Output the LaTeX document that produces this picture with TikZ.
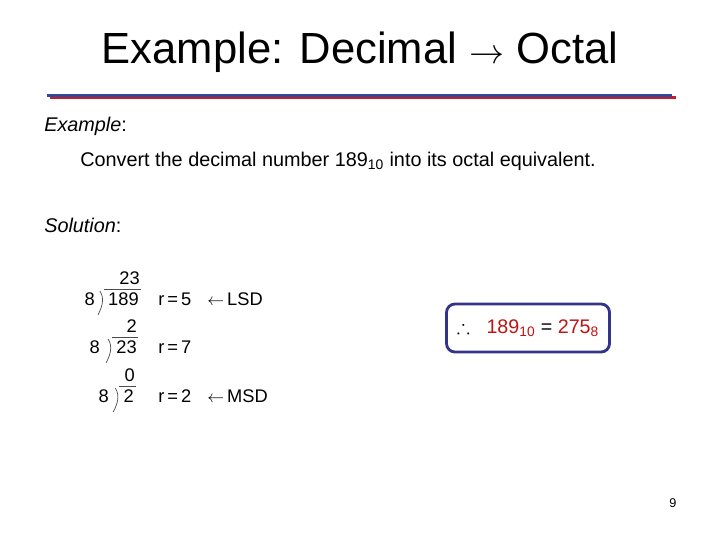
\documentclass[tikz,border=0pt]{standalone}
\usepackage{amsmath,amssymb}
\usepackage{fontspec}
\setmainfont{Liberation Sans}
\usetikzlibrary{positioning}
\definecolor{boxnavy}{RGB}{51,51,140}
\definecolor{ansred}{RGB}{190,20,20}
\definecolor{barblue}{RGB}{45,75,150}
\definecolor{barred}{RGB}{205,25,45}

\tikzset{
  txt/.style={inner sep=0pt, anchor=base west, font=\fontsize{14.1}{16}\selectfont},
  dig/.style={inner sep=0pt, anchor=base west, font=\fontsize{13}{15}\selectfont},
  divline/.style={line width=0.5pt, black!70},
}

\begin{document}
\begin{tikzpicture}[x=0.025cm, y=-0.025cm]
\useasboundingbox (0,0) rectangle (720,540);
% title and bar
\node[inner sep=0pt, anchor=base, font=\fontsize{31}{35}\selectfont] (title) at (360,63) {Example: Decimal $\rightarrow$ Octal};
\draw[barred, line width=2.2pt] (50,97.5) -- (676,97.5);
\draw[barblue, line width=2.2pt] (47,95.5) -- (672,95.5);
% text
\node[txt] (ex) at (44,131) {\textit{Example}:};
\node[txt] (task) at (80,166) {Convert the decimal number 189\textsubscript{10} into its octal equivalent.};
\node[txt] (sol) at (44,232) {\textit{Solution}:};
% division, row 1
\node[dig, anchor=base east] (n1) at (139,305) {189};
\node[dig, anchor=base east] (q1) at (140,284) {23};
\node[dig, anchor=base east] (d1) at (95,305) {8};
\node[dig] (r1) at (158,305) {r\,=\,5};
\node[dig] (l1) at (207,305) {$\leftarrow$\,LSD};
% row 2
\node[dig, anchor=base east] (n2) at (137,353) {23};
\node[dig, anchor=base east] (q2) at (137,332) {2};
\node[dig, anchor=base east] (d2) at (100,353) {8};
\node[dig] (r2) at (158,353) {r\,=\,7};
% row 3
\node[dig, anchor=base east] (n3) at (134,402) {2};
\node[dig, anchor=base east] (q3) at (135,381) {0};
\node[dig, anchor=base east] (d3) at (109,402) {8};
\node[dig] (r3) at (158,402) {r\,=\,2};
\node[dig] (l3) at (207,402) {$\leftarrow$\,MSD};
% brackets
\draw[divline] (n1.north west) ++(-4,-3) -- ++(37,0);
\draw[divline] (n1.north west) ++(-8,-1) .. controls +(5,8) and +(4,-8) .. +(-2,24);
\draw[divline] (n2.north west) ++(-4,-3) -- ++(26,0);
\draw[divline] (n2.north west) ++(-8,-1) .. controls +(5,8) and +(4,-8) .. +(-2,24);
\draw[divline] (n3.north west) ++(-4,-3) -- ++(17,0);
\draw[divline] (n3.north west) ++(-8,-1) .. controls +(5,8) and +(4,-8) .. +(-2,24);
% answer
\node[draw=boxnavy, line width=2pt, rounded corners=6pt, minimum width=163*0.025cm, minimum height=48*0.025cm,
  font=\fontsize{14}{16}\selectfont] (ans) at (528,328)
  {$\therefore$\ \ \ \textcolor{ansred}{189\textsubscript{10}} = \textcolor{ansred}{275\textsubscript{8}}};
\node[inner sep=0pt, font=\fontsize{9}{10}\selectfont] (pg) at (673,503) {9};
\end{tikzpicture}
\end{document}
